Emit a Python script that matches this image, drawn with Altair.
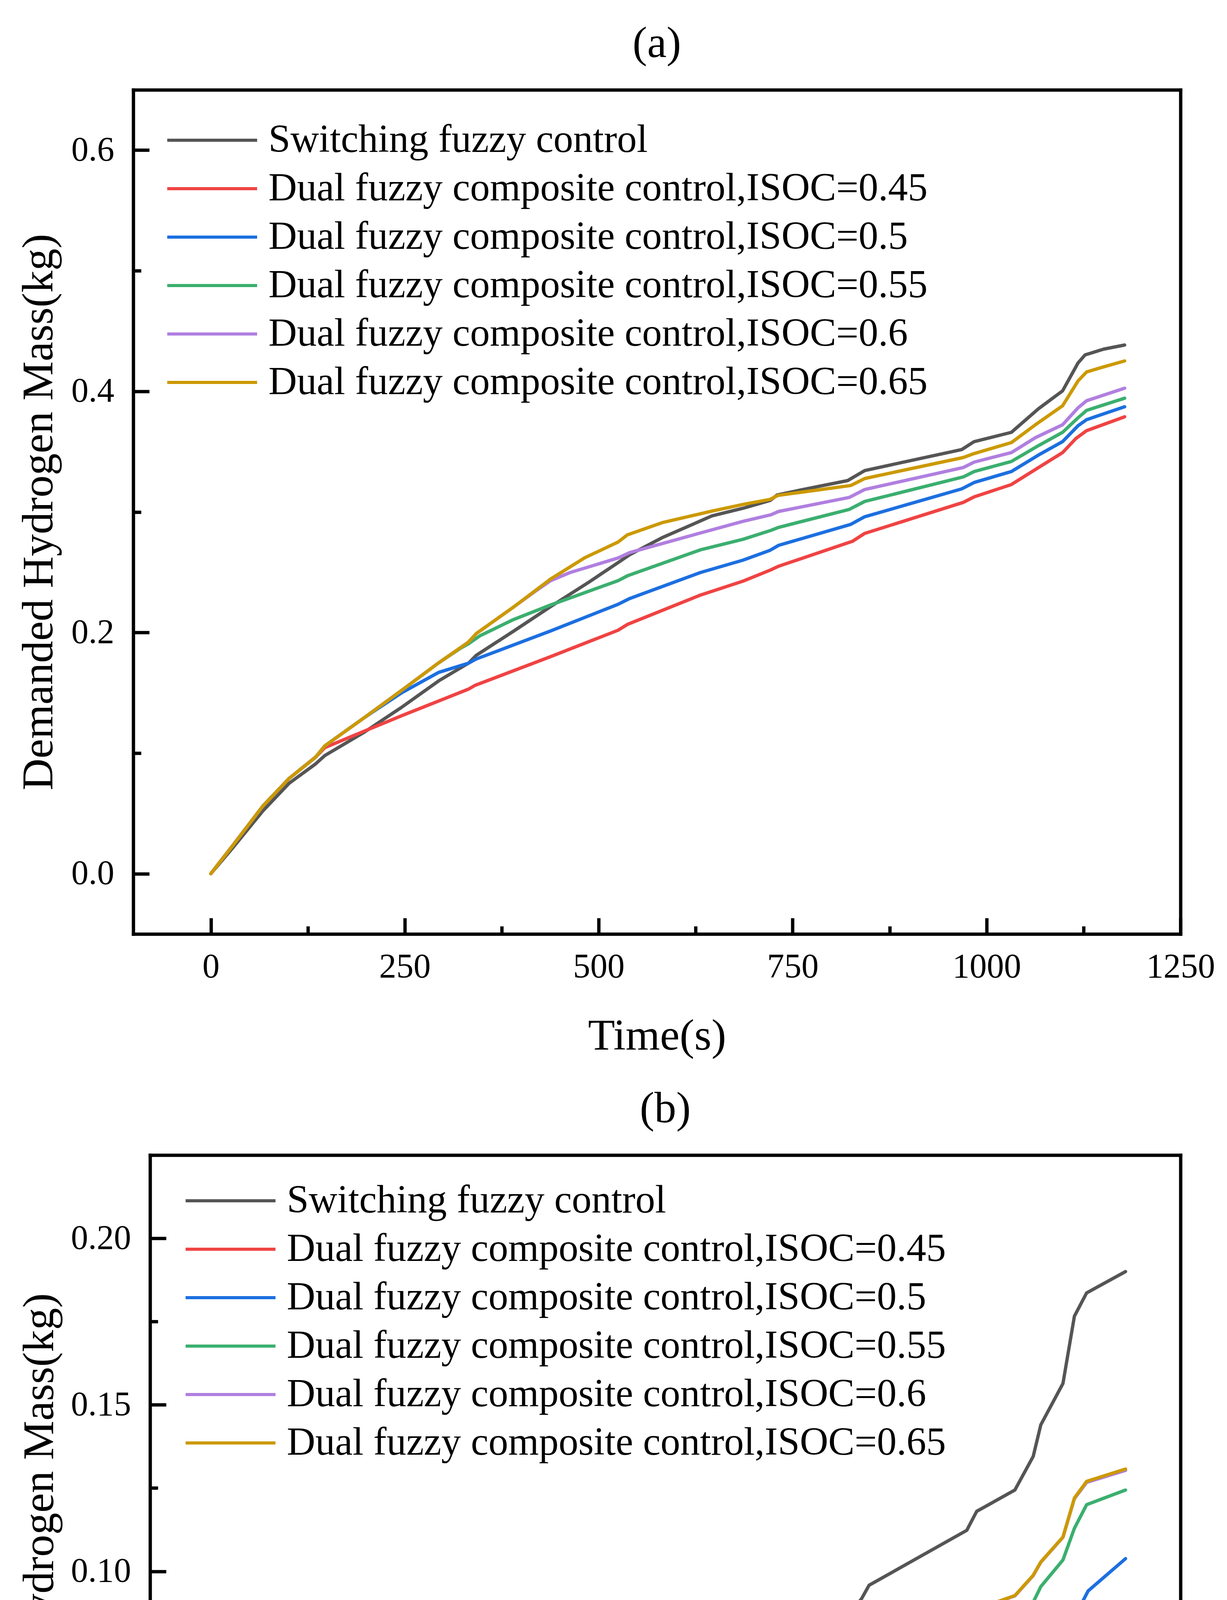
import altair as alt
import pandas as pd

SERIES = ["Switching fuzzy control",
          "Dual fuzzy composite control,ISOC=0.45",
          "Dual fuzzy composite control,ISOC=0.5",
          "Dual fuzzy composite control,ISOC=0.55",
          "Dual fuzzy composite control,ISOC=0.6",
          "Dual fuzzy composite control,ISOC=0.65"]
COLORS = ["#555555", "#F04343", "#1C6FE0", "#3BAF6F", "#B07FE0", "#CC9900"]

XMAJOR = [0, 250, 500, 750, 1000, 1250]
XMINOR = [125, 375, 625, 875, 1125]
A_YMAJOR = [0, 0.2, 0.4, 0.6]
A_YMINOR = [0.1, 0.3, 0.5]
B_YMAJOR = [0, 0.05, 0.1, 0.15, 0.2]
B_YMINOR = [0.025, 0.075, 0.125, 0.175]

# ---------------- panel (a) ----------------
A_T_SW = [0, 29, 67, 101, 135, 147, 197, 246, 294, 332, 342, 390, 438, 487, 525, 540, 583, 646, 686, 721,
          730, 759, 821, 843, 891, 968, 984, 1032, 1067, 1098, 1118, 1127, 1151, 1178]
A_V_SW = [0, 0.022, 0.052, 0.075, 0.091, 0.098, 0.117, 0.138, 0.160, 0.1745, 0.181, 0.201, 0.2215, 0.2416,
          0.258, 0.2645, 0.279, 0.2967, 0.303, 0.3095, 0.314, 0.318, 0.326, 0.3343, 0.341, 0.3517, 0.3583,
          0.366, 0.3856, 0.4004, 0.4236, 0.4302, 0.435, 0.4384]
A_T_45 = [0, 29, 67, 101, 135, 147, 197, 246, 332, 340, 438, 525, 537, 631, 686, 721, 732, 827, 843, 970,
          984, 1032, 1067, 1098, 1115, 1129, 1178]
A_V_45 = [0, 0.024, 0.056, 0.079, 0.0966, 0.1046, 0.118, 0.131, 0.153, 0.156, 0.180, 0.2019, 0.2067, 0.231,
          0.2426, 0.2517, 0.255, 0.2756, 0.2822, 0.3079, 0.3125, 0.3227, 0.3368, 0.3492, 0.3608, 0.3674, 0.3789]
A_T_50 = [0, 29, 67, 101, 135, 147, 197, 212, 246, 294, 332, 342, 438, 525, 540, 631, 686, 721, 732, 825,
          843, 968, 984, 1032, 1067, 1098, 1118, 1129, 1178]
A_V_50 = [0, 0.024, 0.056, 0.079, 0.0966, 0.106, 0.129, 0.1355, 0.150, 0.167, 0.1745, 0.178, 0.2013, 0.2234,
          0.2282, 0.2497, 0.260, 0.2682, 0.2723, 0.2897, 0.296, 0.3191, 0.3244, 0.3335, 0.3472, 0.3583,
          0.3715, 0.3765, 0.3872]
A_T_55 = [0, 29, 67, 101, 135, 147, 197, 246, 294, 322, 332, 347, 390, 438, 525, 537, 631, 686, 722, 732,
          823, 843, 970, 984, 1032, 1067, 1098, 1118, 1129, 1178]
A_V_55 = [0, 0.024, 0.056, 0.079, 0.0966, 0.106, 0.129, 0.152, 0.175, 0.187, 0.1906, 0.1973, 0.2107, 0.2228,
          0.2430, 0.247, 0.2685, 0.2773, 0.2847, 0.2872, 0.3021, 0.3087, 0.329, 0.3335, 0.3418, 0.355,
          0.366, 0.3781, 0.3842, 0.3943]
A_T_60 = [0, 29, 67, 101, 135, 147, 197, 246, 294, 332, 342, 390, 420, 438, 463, 525, 540, 631, 686, 722,
          732, 823, 843, 970, 984, 1032, 1063, 1098, 1118, 1129, 1178]
A_V_60 = [0, 0.024, 0.056, 0.079, 0.0966, 0.106, 0.129, 0.152, 0.175, 0.192, 0.199, 0.221, 0.235, 0.243,
          0.2497, 0.2618, 0.2663, 0.2825, 0.2922, 0.2976, 0.3004, 0.312, 0.3186, 0.3368, 0.3413, 0.3492,
          0.3616, 0.3723, 0.3864, 0.3922, 0.4026]
A_T_65 = [0, 29, 67, 101, 135, 147, 197, 246, 294, 332, 342, 390, 438, 482, 525, 537, 583, 646, 686, 721,
          731, 825, 843, 970, 984, 1032, 1063, 1098, 1118, 1129, 1151, 1178]
A_V_65 = [0, 0.024, 0.056, 0.079, 0.0966, 0.106, 0.129, 0.152, 0.175, 0.192, 0.199, 0.221, 0.2443, 0.262,
          0.275, 0.281, 0.2913, 0.3007, 0.3062, 0.3104, 0.3137, 0.3219, 0.3277, 0.3451, 0.3484, 0.3575,
          0.3723, 0.388, 0.4087, 0.4161, 0.4203, 0.4252]

# ---------------- panel (b) ----------------
B_T_SW = [0, 63, 134, 143, 247, 257, 329, 339, 401, 427, 442, 457, 475, 514, 524, 534, 555, 567, 606, 637,
          652, 668, 709, 719, 729, 744, 760, 806, 821, 832, 842, 970, 983, 1033, 1057, 1067, 1096, 1111,
          1127, 1178]
B_V_SW = [0, 0.0089, 0.0184, 0.0216, 0.0368, 0.0384, 0.0477, 0.0503, 0.058, 0.061, 0.0614, 0.0638, 0.0659,
          0.0661, 0.0675, 0.0705, 0.073, 0.0739, 0.0739, 0.0743, 0.0762, 0.0784, 0.0784, 0.080, 0.083, 0.085,
          0.0865, 0.0865, 0.0887, 0.0917, 0.0958, 0.1123, 0.118, 0.1244, 0.1345, 0.144, 0.1564, 0.1766,
          0.1836, 0.190]
B_T_45 = [0, 143, 400, 600, 832, 842, 970, 983, 1033, 1052, 1067, 1096, 1109, 1119, 1129, 1178]
B_V_45 = [0, 0, 0.0001, 0.0002, 0.0003, 0.0038, 0.0234, 0.0271, 0.036, 0.0426, 0.0493, 0.0604, 0.0689,
          0.076, 0.0786, 0.0887]
B_T_50 = [0, 143, 247, 329, 339, 447, 529, 536, 719, 729, 821, 842, 970, 983, 1033, 1057, 1067, 1096, 1106,
          1119, 1129, 1178]
B_V_50 = [0, 0, 0.0048, 0.0085, 0.0097, 0.015, 0.0186, 0.0198, 0.0291, 0.0305, 0.0352, 0.0386, 0.0473,
          0.0503, 0.056, 0.0624, 0.0665, 0.0776, 0.0836, 0.0897, 0.0941, 0.1038]
B_T_55 = [0, 140, 145, 329, 339, 529, 536, 719, 729, 821, 842, 970, 983, 1033, 1057, 1067, 1096, 1111, 1127,
          1150, 1178]
B_V_55 = [0, 0.0099, 0.0115, 0.0271, 0.0287, 0.0418, 0.0436, 0.0574, 0.059, 0.065, 0.0689, 0.078, 0.0816,
          0.0855, 0.0907, 0.0954, 0.1034, 0.1129, 0.120, 0.122, 0.1244]
B_T_60 = [0, 140, 145, 329, 339, 529, 536, 719, 729, 821, 842, 970, 983, 1033, 1057, 1067, 1096, 1111, 1127,
          1178]
B_V_60 = [0, 0.0108, 0.0124, 0.0286, 0.0300, 0.0437, 0.0462, 0.0613, 0.0633, 0.0704, 0.0751, 0.0856,
          0.0886, 0.0926, 0.0987, 0.1027, 0.1102, 0.1218, 0.1267, 0.1303]
B_T_65 = [0, 140, 145, 329, 339, 529, 536, 719, 729, 821, 842, 970, 983, 1033, 1057, 1067, 1096, 1111, 1127,
          1178]
B_V_65 = [0, 0.0109, 0.0125, 0.0287, 0.0301, 0.0438, 0.0463, 0.0614, 0.0634, 0.0705, 0.0752, 0.0857,
          0.0887, 0.0927, 0.0988, 0.1028, 0.1103, 0.122, 0.127, 0.1307]


def build(pairs):
    rows = []
    for i, (ts, vs) in enumerate(pairs):
        for t, v in zip(ts, vs):
            rows.append({"series": SERIES[i], "k": i, "t": t, "v": v})
    return pd.DataFrame(rows)


df_a = build([(A_T_SW, A_V_SW), (A_T_45, A_V_45), (A_T_50, A_V_50),
              (A_T_55, A_V_55), (A_T_60, A_V_60), (A_T_65, A_V_65)])
df_b = build([(B_T_SW, B_V_SW), (B_T_45, B_V_45), (B_T_50, B_V_50),
              (B_T_55, B_V_55), (B_T_60, B_V_60), (B_T_65, B_V_65)])

FONT = "Liberation Serif"
LW = 8.5  # frame / tick width


def panel(df, ydom, ymaj, ymin, yfmt, title, lx, ly, w, h, shift):
    # the frame of the plot spans x pixels [shift, w]
    xs = alt.Scale(domain=[-100, 1250], nice=False, zero=False, range=[shift, w])
    ys = alt.Scale(domain=ydom, nice=False, zero=False)
    dom = dict(domain=True, domainColor="black", domainWidth=LW, domainCap="square")
    lines = alt.Chart(df).mark_line(strokeWidth=8.5, strokeJoin="round", strokeCap="round").encode(
        x=alt.X("t:Q", scale=xs, axis=alt.Axis(
            values=XMAJOR, format="d", orient="bottom", title="Time(s)", ticks=False, tickSize=0,
            grid=False, labelPadding=40, titlePadding=78, labelFlush=False,
            labelOverlap=False, labelLimit=1000, **dom)),
        y=alt.Y("v:Q", scale=ys, axis=alt.Axis(
            values=ymaj, format=yfmt, orient="left", title="Demanded Hydrogen Mass(kg)", ticks=False,
            tickSize=0, grid=False, labelPadding=49, titlePadding=25, labelFlush=False,
            labelOverlap=False, labelLimit=1000, offset=-shift, **dom)),
        color=alt.Color("series:N", sort=SERIES, scale=alt.Scale(domain=SERIES, range=COLORS),
                        legend=alt.Legend(
                            title=None, orient="none", legendX=shift + lx, legendY=ly,
                            symbolType="stroke", symbolSize=52900, symbolStrokeWidth=8, clipHeight=124,
                            rowPadding=0, labelFont=FONT, labelFontSize=101, labelColor="black",
                            labelLimit=3000, labelOffset=25, padding=0)),
    )

    def ticks(xv, yv, size):
        return alt.Chart(df).mark_line(opacity=0).encode(
            x=alt.X("t:Q", scale=xs, axis=alt.Axis(
                values=xv, orient="bottom", labels=False, ticks=True, tickSize=size, tickWidth=LW,
                tickColor="black", offset=-size, domain=False, grid=False, title=None)),
            y=alt.Y("v:Q", scale=ys, axis=alt.Axis(
                values=yv, orient="left", labels=False, ticks=True, tickSize=size, tickWidth=LW,
                tickColor="black", offset=-(shift + size), domain=False, grid=False, title=None)),
        )

    frame = alt.Chart(df).mark_line(opacity=0).encode(
        x=alt.X("t:Q", scale=xs, axis=alt.Axis(
            values=XMAJOR, orient="top", labels=False, ticks=False, grid=False, title=None, **dom)),
        y=alt.Y("v:Q", scale=ys, axis=alt.Axis(
            values=ymaj, orient="right", labels=False, ticks=False, grid=False, title=None, **dom)),
    )

    return alt.layer(lines, ticks(XMAJOR, ymaj, 41), ticks(XMINOR, ymin, 20), frame).resolve_axis(
        x="independent", y="independent"
    ).properties(
        width=w, height=h,
        view=alt.ViewBackground(stroke="transparent"),
        title=alt.TitleParams(title, font=FONT, fontSize=112, fontWeight="normal", color="black",
                              anchor="middle", baseline="alphabetic", offset=-28, dx=shift / 2),
    )


pa = panel(df_a, [-0.05, 0.65], A_YMAJOR, A_YMINOR, ".1f", "(a)", 83, 67, 2680, 2161, 0)
pb = panel(df_b, [-0.025, 0.225], B_YMAJOR, B_YMINOR, ".2f", "(b)", 87, 55, 2680, 2131, 43)

chart = alt.vconcat(pa, pb, spacing=72).resolve_scale(
    color="independent"
).properties(
    padding={"left": 34, "top": 47, "right": 10, "bottom": 10}
).configure_view(
    stroke="transparent"
).configure_axis(
    labelFont=FONT, labelFontSize=88, labelColor="black",
    titleFont=FONT, titleFontSize=113, titleFontWeight="normal", titleColor="black"
)

chart.save("out.html", embed_options={"renderer": "svg", "actions": False})
